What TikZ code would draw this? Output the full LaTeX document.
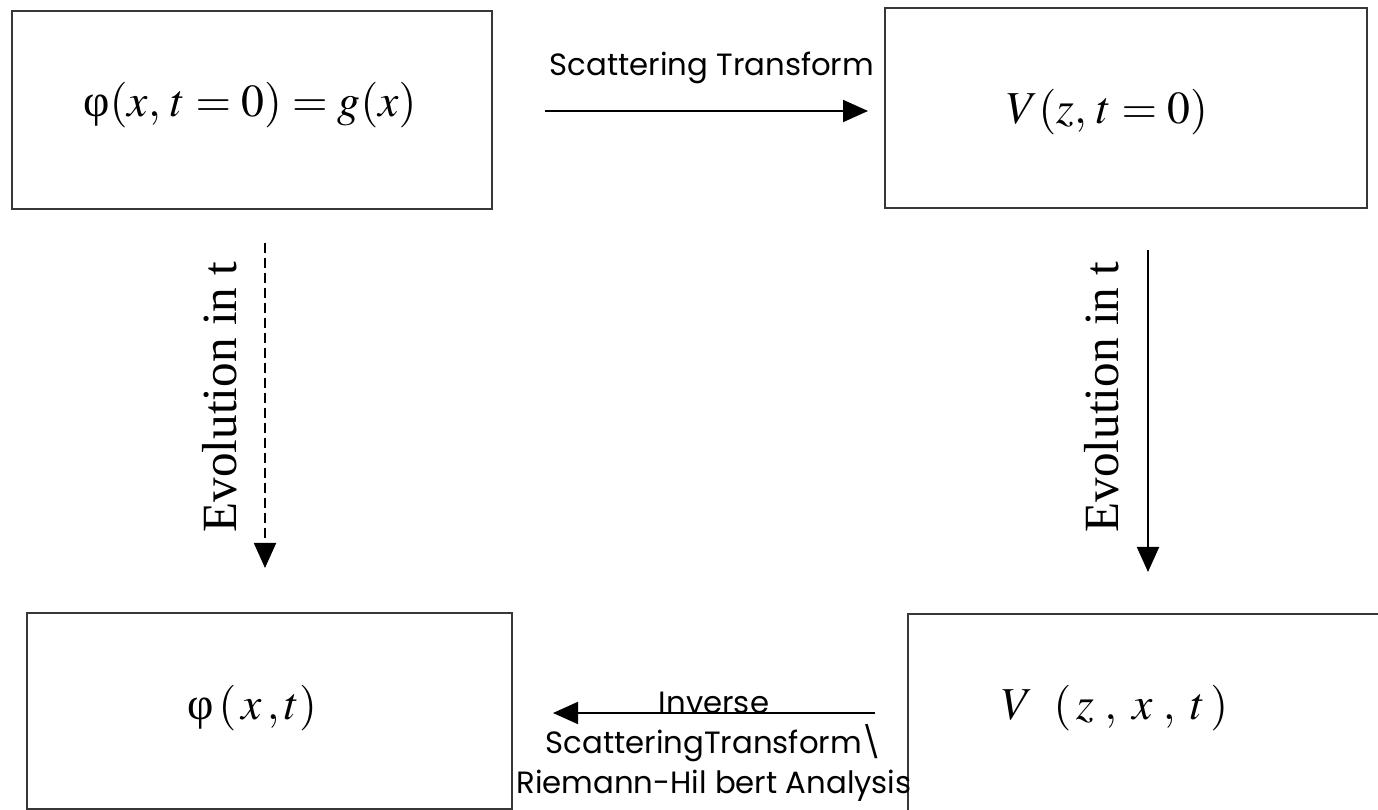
\documentclass[tikz,border=0pt]{standalone}
\usepackage{mathptmx}
\usepackage{fontspec}
\setmainfont{Liberation Serif}
\newfontfamily\labelfont{Poppins}
\usepackage{tikz}
\usetikzlibrary{arrows.meta,positioning}
\definecolor{boxline}{RGB}{55,55,55}
\newcommand{\uphi}{\textrm{φ}}

\begin{document}
\begin{tikzpicture}[
    box/.style={rectangle, draw=boxline, line width=1.3pt, minimum width=9.6cm,
                minimum height=3.96cm, inner sep=0pt},
    mathlbl/.style={font=\fontsize{26}{30}\selectfont},
    evolbl/.style={font=\fontsize{28}{32}\selectfont, rotate=90},
    sanslbl/.style={font=\labelfont\fontsize{17.5}{22.7}\selectfont, align=center},
    flow/.style={line width=1.1pt, -{Triangle[length=0.5cm, width=0.44cm]}},
]
    \useasboundingbox (0,0) rectangle (27.56,16.2);
    \clip (0,0) rectangle (27.56,16.2);

    % Boxes
    \node[box] (init) at (5.04,14.0) {};
    \node[box, minimum width=9.64cm, minimum height=4.0cm] (scat) at (22.52,14.04) {};
    \node[box, minimum width=9.7cm, minimum height=3.92cm] (sol) at (5.39,1.98) {};
    \node[box, minimum width=9.7cm] (scatt) at (23.01,1.94) {};

    % Box contents
    \node[mathlbl] (initlbl) at (5.0,14.1) {$\uphi(x,\,t=0)=g(x)$};
    \node[mathlbl] (scatlbl) at (22.15,13.96) {$V(z,\,t=0)$};
    \node[mathlbl] (sollbl) at (5.04,2.04) {$\uphi\,(\,x\,,t)$};
    \node[mathlbl] (scattlbl) at (22.3,2.04) {$V\;\;(\,z\;,\;x\;,\;t\,)$};

    % Arrow ends
    \coordinate (ta) at (10.9,13.98);
    \coordinate (tb) at (17.36,13.98);
    \coordinate (la) at (5.3,11.34);
    \coordinate (lb) at (5.3,4.84);
    \coordinate (ra) at (22.96,11.2);
    \coordinate (rb) at (22.96,4.76);
    \coordinate (ba) at (17.5,1.94);
    \coordinate (bb) at (11.06,1.94);

    % Arrows
    \draw[flow] (ta) -- (tb);
    \draw[flow, dash pattern=on 0.2cm off 0.1cm] (la) -- (lb);
    \draw[flow] (ra) -- (rb);
    \draw[flow] (ba) -- (bb);

    % Labels
    \node[sanslbl] (toplbl) at (14.24,14.84) {Scattering Transform};
    \node[evolbl] (leftlbl) at (4.4,8.26) {Evolution in t};
    \node[evolbl] (rightlbl) at (22.04,8.26) {Evolution in t};
    \node[sanslbl] (botlbl) at (14.28,1.26) {Inverse\\ScatteringTransform\textbackslash\\Riemann-Hil bert Analysis};
\end{tikzpicture}
\end{document}
